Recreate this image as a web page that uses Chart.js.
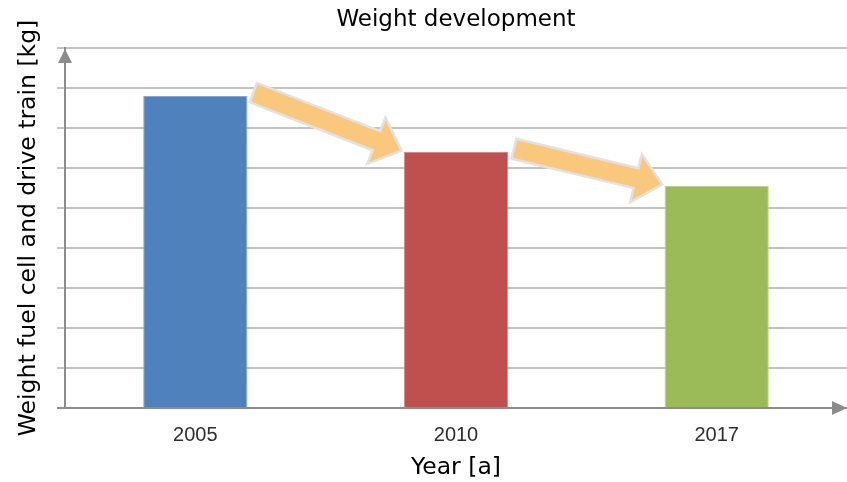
<!DOCTYPE html>
<html>
<head>
<meta charset="utf-8">
<title>Weight development</title>
<script src="https://cdn.jsdelivr.net/npm/chart.js@4/dist/chart.umd.min.js"></script>
<style>
  html, body { margin: 0; padding: 0; background: #ffffff; }
  #wrap { width: 847px; height: 482px; }
  canvas { display: block; }
</style>
</head>
<body>
<div id="wrap"><canvas id="chart" width="847" height="482"></canvas></div>
<script>
// Years on the horizontal axis and the relative weight of fuel cell + drive train
const years = ['2005', '2010', '2017'];
const weights = [7.8, 6.4, 5.55];
const yMin = 0;
const yMax = 9;
const yStep = 1;

// Office-style palette for the three bars
const barColors = ['#4F81BD', '#C0504D', '#9BBB59'];
const barEdges = ['#86A8D6', '#D68886', '#BCD38F'];

const axisGray = '#8C8C8C';
const gridGray = '#C3C3C3';

// Orange trend arrows from the top of each bar to the next one
const trendArrows = {
  id: 'trendArrows',
  afterDatasetsDraw(chart) {
    const bars = chart.getDatasetMeta(0).data;
    const ctx = chart.ctx;
    ctx.save();
    for (let i = 0; i < bars.length - 1; i++) {
      const a = bars[i], b = bars[i + 1];
      const x0 = a.x + a.width / 2 + 7, y0 = a.y - 3;
      const x1 = b.x - b.width / 2 - 4, y1 = b.y - 2;
      const dx = x1 - x0, dy = y1 - y0;
      const len = Math.hypot(dx, dy);
      const ux = dx / len, uy = dy / len;
      const nx = -uy, ny = ux;
      const shaft = 9, headLen = 24, headHalf = 22;
      const bx = x1 - ux * headLen, by = y1 - uy * headLen;
      const pts = [
        [x0 + nx * shaft, y0 + ny * shaft],
        [bx + nx * shaft, by + ny * shaft],
        [bx + nx * headHalf, by + ny * headHalf],
        [x1, y1],
        [bx - nx * headHalf, by - ny * headHalf],
        [bx - nx * shaft, by - ny * shaft],
        [x0 - nx * shaft, y0 - ny * shaft]
      ];
      ctx.beginPath();
      pts.forEach((p, k) => (k ? ctx.lineTo(p[0], p[1]) : ctx.moveTo(p[0], p[1])));
      ctx.closePath();
      ctx.lineJoin = 'miter';
      ctx.lineWidth = 5;
      ctx.strokeStyle = '#E2E2E2';
      ctx.stroke();
      ctx.fillStyle = '#FAC87D';
      ctx.fill();
    }
    ctx.restore();
  }
};

// Arrow heads at the ends of both axes
const axisArrows = {
  id: 'axisArrows',
  afterDraw(chart) {
    const { left, top, right, bottom } = chart.chartArea;
    const ctx = chart.ctx;
    ctx.save();
    ctx.fillStyle = axisGray;
    ctx.beginPath();
    ctx.moveTo(left, top + 1);
    ctx.lineTo(left - 7, top + 15);
    ctx.lineTo(left + 7, top + 15);
    ctx.closePath();
    ctx.fill();
    ctx.beginPath();
    ctx.moveTo(right, bottom);
    ctx.lineTo(right - 15, bottom - 7);
    ctx.lineTo(right - 15, bottom + 7);
    ctx.closePath();
    ctx.fill();
    ctx.restore();
  }
};

new Chart(document.getElementById('chart'), {
  type: 'bar',
  data: {
    labels: years,
    datasets: [{
      data: weights,
      backgroundColor: barColors,
      borderColor: barEdges,
      borderWidth: 1,
      categoryPercentage: 1.0,
      barPercentage: 0.4
    }]
  },
  options: {
    responsive: false,
    animation: false,
    devicePixelRatio: 1,
    layout: { padding: 0 },
    plugins: {
      legend: { display: false },
      tooltip: { enabled: false },
      title: {
        display: true,
        text: 'Weight development',
        fullSize: false,
        color: '#000000',
        font: { family: 'DejaVu Sans', size: 23, weight: 'normal', lineHeight: 1 },
        padding: { top: 9, bottom: 16 }
      }
    },
    scales: {
      x: {
        grid: { display: true, color: 'rgba(0,0,0,0)', drawTicks: false },
        border: { display: true, color: axisGray, width: 2 },
        ticks: {
          color: '#2E2E2E',
          padding: 15,
          font: { family: 'Liberation Sans', size: 20, lineHeight: 1.2 }
        },
        title: {
          display: true,
          text: 'Year [a]',
          color: '#000000',
          font: { family: 'DejaVu Sans', size: 23.5, lineHeight: 1 },
          padding: { top: 0, bottom: 2 }
        },
        afterFit(scale) { scale.height = 74; }
      },
      y: {
        min: yMin,
        max: yMax,
        ticks: { display: false, stepSize: yStep },
        grid: {
          color: (c) => (c.tick && c.tick.value === 0 ? axisGray : gridGray),
          lineWidth: 2,
          drawTicks: true,
          tickLength: 8
        },
        border: { display: true, color: axisGray, width: 2 },
        title: {
          display: true,
          text: 'Weight fuel cell and drive train [kg]',
          color: '#000000',
          font: { family: 'DejaVu Sans', size: 23.5, lineHeight: 1 },
          padding: { top: 17, bottom: 0 }
        },
        afterFit(scale) { scale.width = 65; }
      }
    }
  },
  plugins: [trendArrows, axisArrows]
});
</script>
</body>
</html>
